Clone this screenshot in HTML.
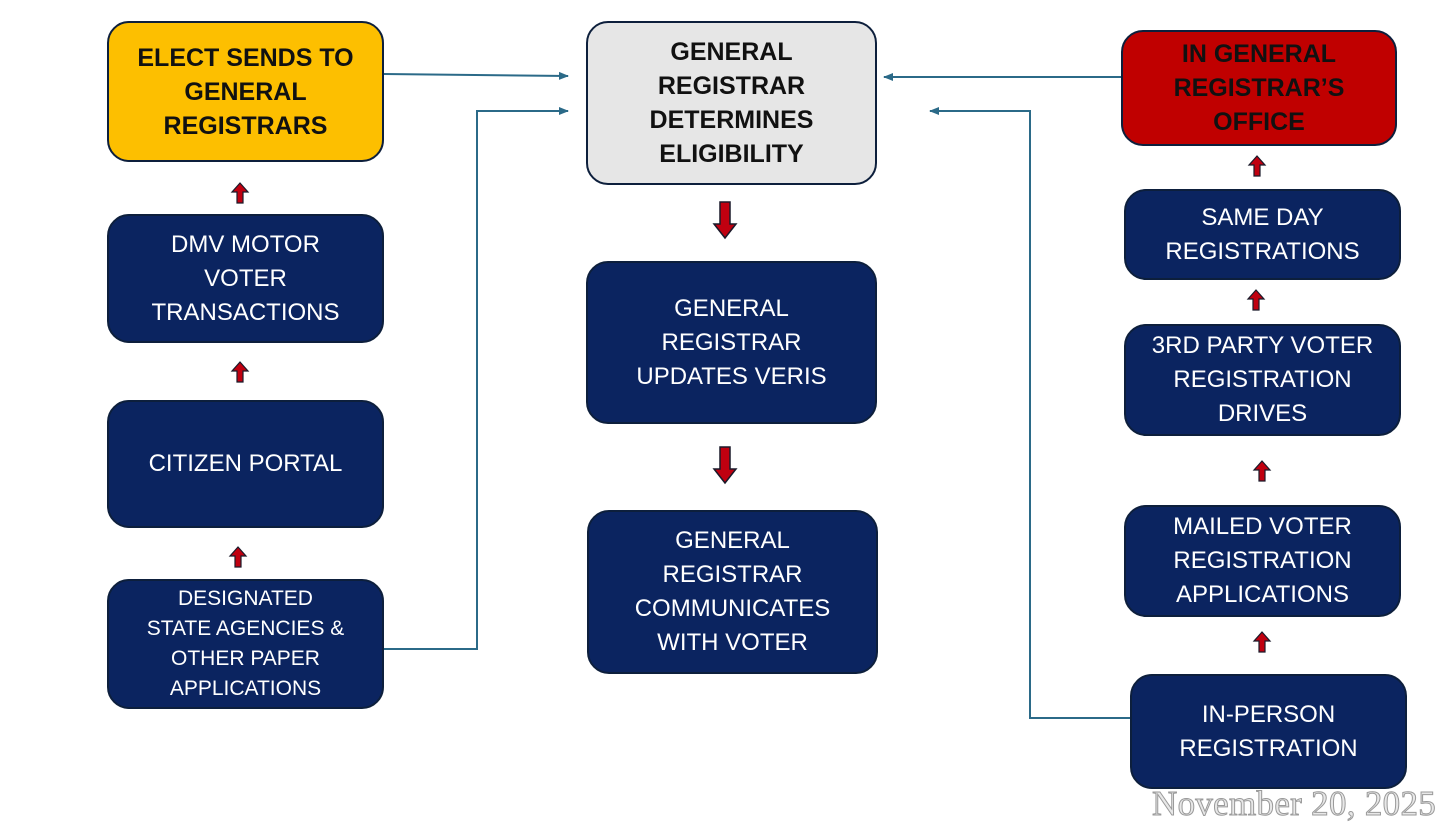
<!DOCTYPE html>
<html><head><meta charset="utf-8"><style>
html,body{margin:0;padding:0;background:#fff;}
body{width:1456px;height:840px;position:relative;overflow:hidden;font-family:"Liberation Sans",Arial,sans-serif;}
.b{position:absolute;box-sizing:border-box;display:flex;align-items:center;justify-content:center;text-align:center;border-radius:22px;border:2px solid #0d1f3c;background:#0b2460;color:#fff;font-size:24px;line-height:34px;}
.k{color:#111;font-weight:bold;font-size:25px;}
svg{position:absolute;left:0;top:0;}
.date{position:absolute;left:1152px;top:784px;font-family:"Liberation Serif",serif;font-size:35px;color:#e8e8e8;-webkit-text-stroke:1px #9a9a9a;letter-spacing:0.3px;}
</style></head><body>
<svg width="1456" height="840">
<defs><marker id="m" markerWidth="10" markerHeight="10" refX="9" refY="5" orient="auto" markerUnits="userSpaceOnUse"><path d="M0,1 L10,5 L0,9 z" fill="#2b6a88"/></marker></defs>
<g stroke="#2b6a88" stroke-width="2" fill="none">
<path d="M384,74 L568,76" marker-end="url(#m)"/>
<path d="M384,649 L477,649 L477,111 L568,111" marker-end="url(#m)"/>
<path d="M1121,77 L884,77" marker-end="url(#m)"/>
<path d="M1130,718 L1030,718 L1030,111 L930,111" marker-end="url(#m)"/>
</g>
<g fill="#c00010" stroke="#1a1a2a" stroke-width="1.5">
<path d="M720,202 h10 v22 h6 l-11,14 l-11,-14 h6 z"/>
<path d="M720,447 h10 v22 h6 l-11,14 l-11,-14 h6 z"/>
</g>
<g fill="#c00010" stroke="#1a1a2a" stroke-width="1.2">
<path d="M237,203 v-11 h-5 l8,-9 l8,9 h-5 v11 z"/>
<path d="M237,382 v-11 h-5 l8,-9 l8,9 h-5 v11 z"/>
<path d="M235,567 v-11 h-5 l8,-9 l8,9 h-5 v11 z"/>
<path d="M1254,176 v-11 h-5 l8,-9 l8,9 h-5 v11 z"/>
<path d="M1253,310 v-11 h-5 l8,-9 l8,9 h-5 v11 z"/>
<path d="M1259,481 v-11 h-5 l8,-9 l8,9 h-5 v11 z"/>
<path d="M1259,652 v-11 h-5 l8,-9 l8,9 h-5 v11 z"/>
</g>
</svg>
<div class="b k" style="left:107px;top:21px;width:277px;height:141px;background:#fdbf00;">ELECT SENDS TO<br>GENERAL<br>REGISTRARS</div>
<div class="b k" style="left:586px;top:21px;width:291px;height:164px;background:#e6e6e6;">GENERAL<br>REGISTRAR<br>DETERMINES<br>ELIGIBILITY</div>
<div class="b k" style="left:1121px;top:30px;width:276px;height:116px;background:#c00000;">IN GENERAL<br>REGISTRAR’S<br>OFFICE</div>
<div class="b" style="left:107px;top:214px;width:277px;height:129px;">DMV MOTOR<br>VOTER<br>TRANSACTIONS</div>
<div class="b" style="left:107px;top:400px;width:277px;height:128px;">CITIZEN PORTAL</div>
<div class="b" style="left:107px;top:579px;width:277px;height:130px;font-size:21px;line-height:30px;">DESIGNATED<br>STATE AGENCIES &amp;<br>OTHER PAPER<br>APPLICATIONS</div>
<div class="b" style="left:586px;top:261px;width:291px;height:163px;">GENERAL<br>REGISTRAR<br>UPDATES VERIS</div>
<div class="b" style="left:587px;top:510px;width:291px;height:164px;">GENERAL<br>REGISTRAR<br>COMMUNICATES<br>WITH VOTER</div>
<div class="b" style="left:1124px;top:189px;width:277px;height:91px;">SAME DAY<br>REGISTRATIONS</div>
<div class="b" style="left:1124px;top:324px;width:277px;height:112px;">3RD PARTY VOTER<br>REGISTRATION<br>DRIVES</div>
<div class="b" style="left:1124px;top:505px;width:277px;height:112px;">MAILED VOTER<br>REGISTRATION<br>APPLICATIONS</div>
<div class="b" style="left:1130px;top:674px;width:277px;height:115px;">IN-PERSON<br>REGISTRATION</div>
<div class="date">November 20, 2025</div>
</body></html>
